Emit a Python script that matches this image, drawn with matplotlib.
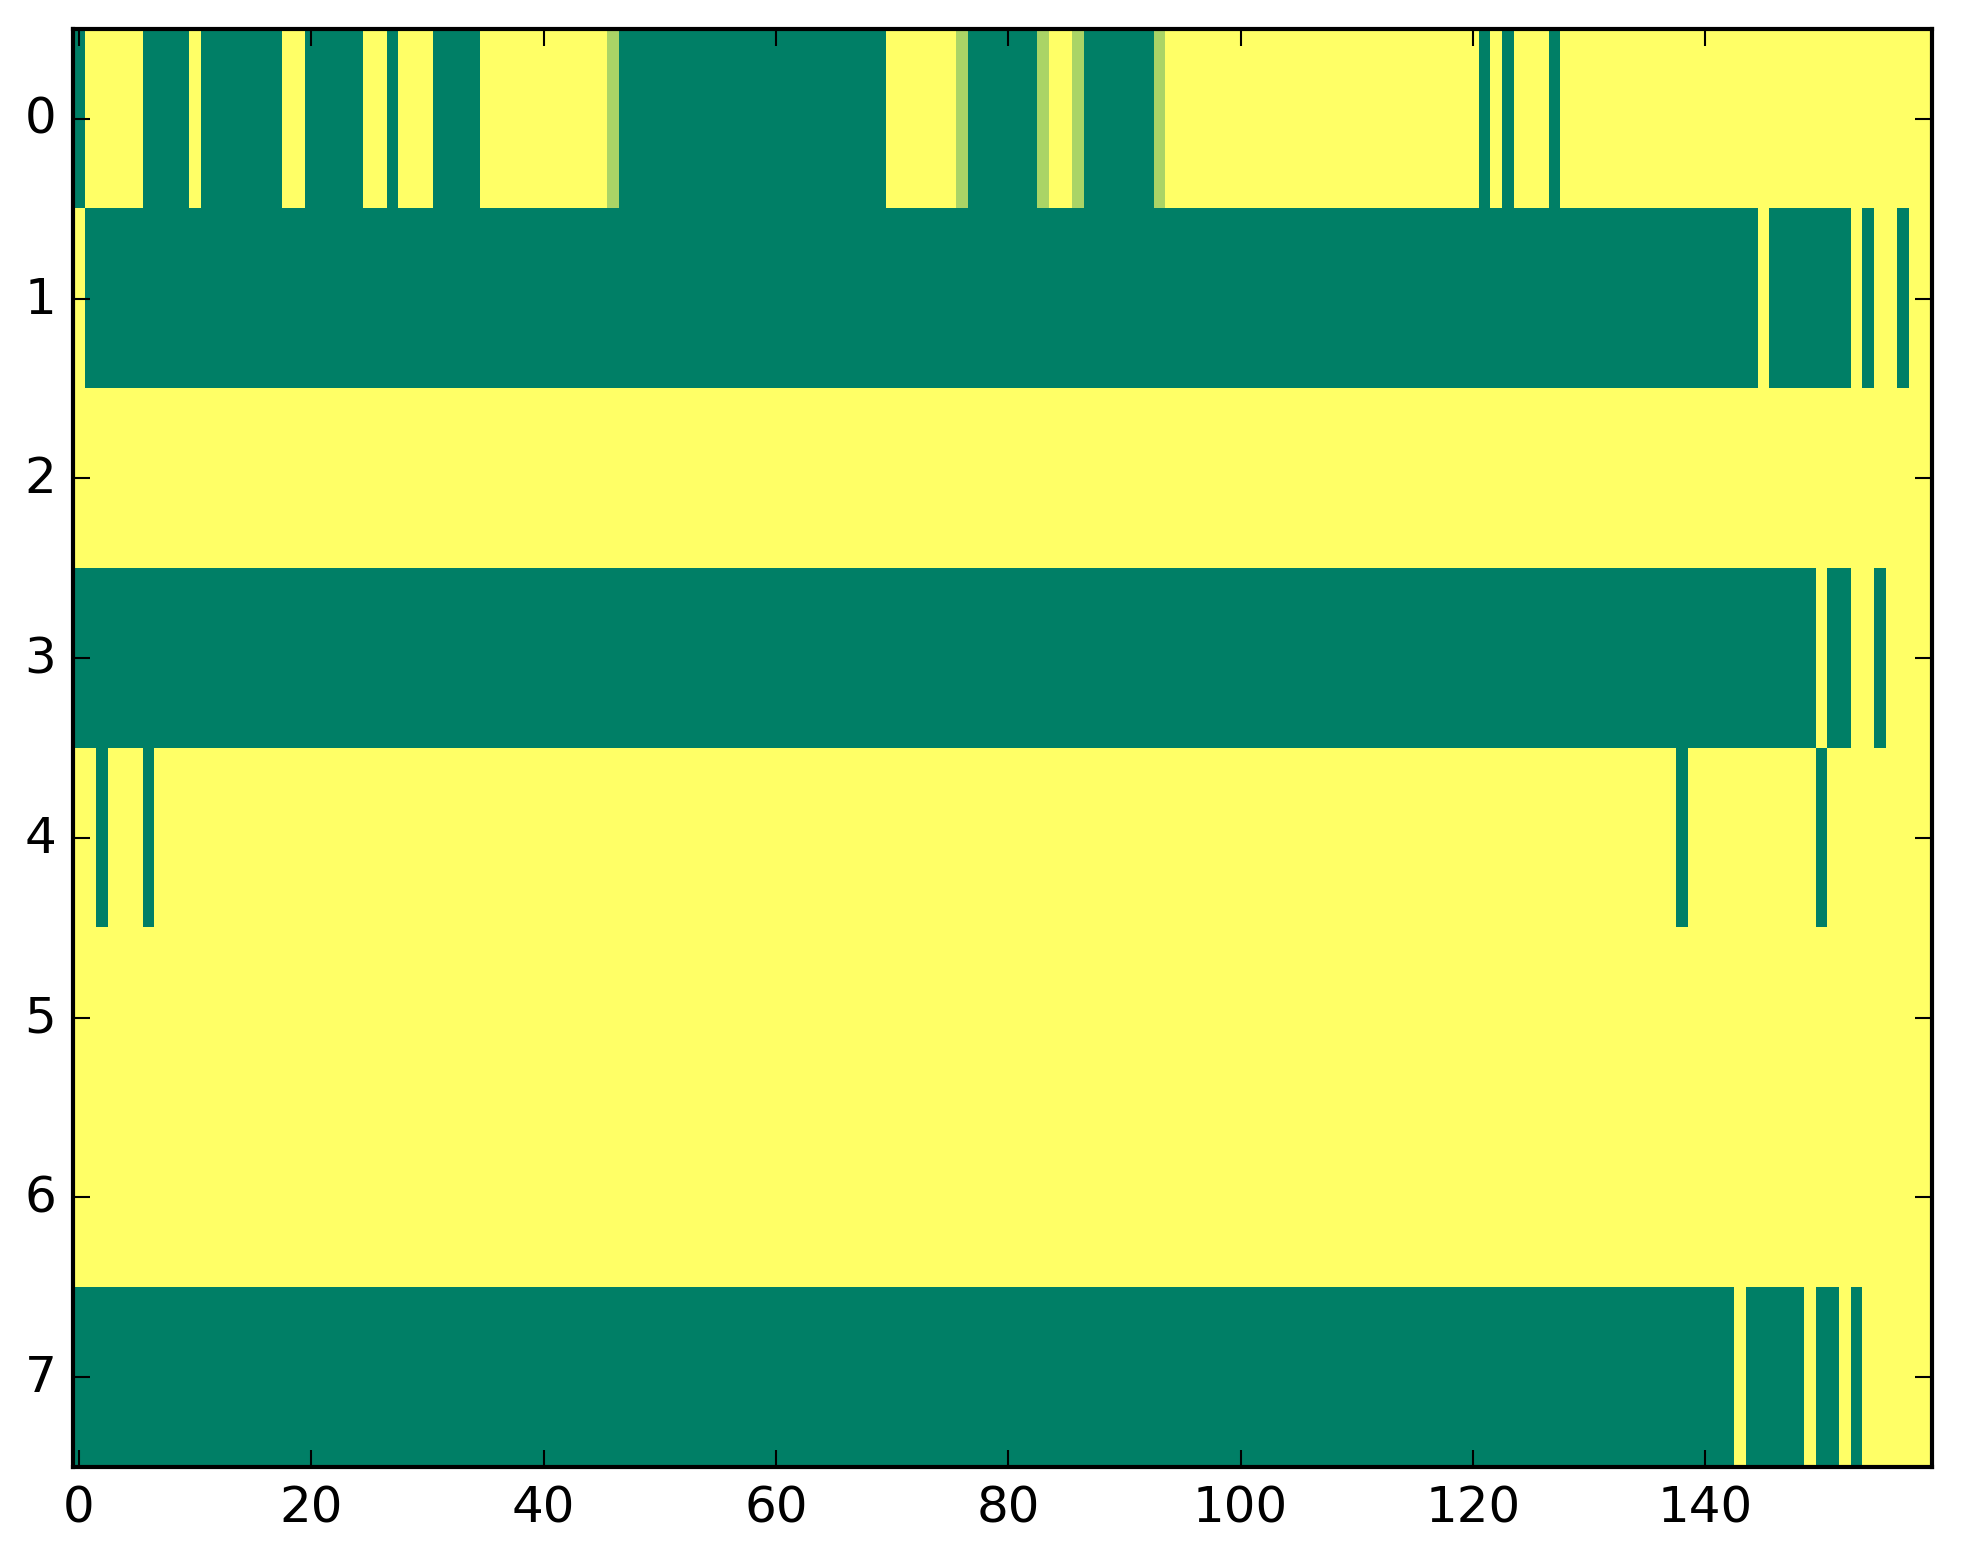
import matplotlib
matplotlib.use('Agg')
import matplotlib.pyplot as plt
import numpy as np

plt.style.use('classic')

n_rows = 8
n_cols = 160

# green (value 0) column ranges per row, inclusive
green_runs = {
    0: [(0, 0), (6, 9), (11, 17), (20, 24), (27, 27), (31, 34), (47, 69),
        (77, 82), (87, 92), (121, 121), (123, 123), (127, 127)],
    1: [(1, 144), (146, 152), (154, 154), (157, 157)],
    2: [],
    3: [(0, 149), (151, 152), (155, 155)],
    4: [(2, 2), (6, 6), (138, 138), (150, 150)],
    5: [],
    6: [],
    7: [(0, 142), (144, 148), (150, 151), (153, 153)],
}
# light green columns (intermediate value)
light_cols = {0: [46, 76, 83, 86, 93]}
light_value = 2.0 / 3.0

data = np.ones((n_rows, n_cols))
for r, runs in green_runs.items():
    for a, b in runs:
        data[r, a:b + 1] = 0.0
for r, cols in light_cols.items():
    for c in cols:
        data[r, c] = light_value

fig = plt.figure(figsize=(1963 / 300.0, 1564 / 300.0), dpi=300)
ax = fig.add_axes([73 / 1963.0, 96 / 1564.0, (1932 - 73) / 1963.0, (1468 - 30) / 1564.0])
ax.imshow(data, cmap='summer', vmin=0, vmax=1, aspect='auto', interpolation='nearest')
ax.set_xlim(-0.5, n_cols - 0.5)
ax.set_ylim(n_rows - 0.5, -0.5)
ax.tick_params(labelsize=12)

fig.savefig('out.png', dpi=300)
